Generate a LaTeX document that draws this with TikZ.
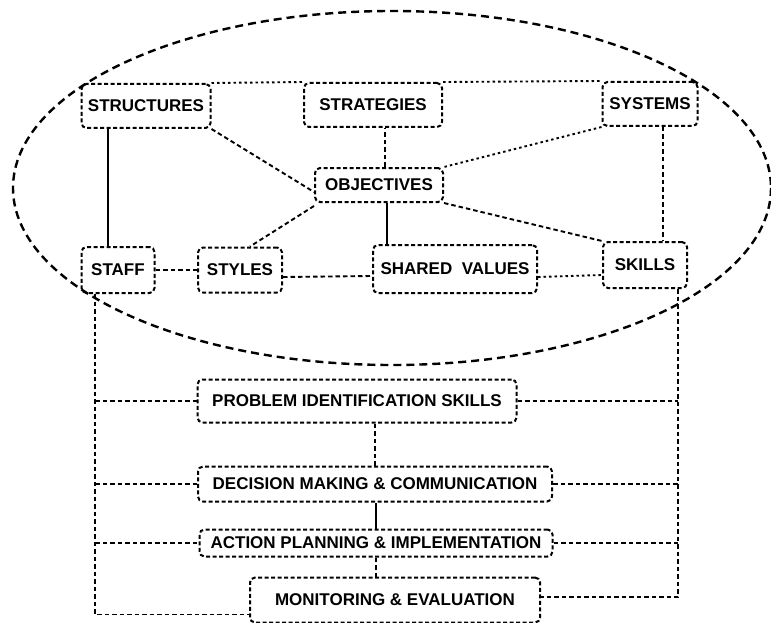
\documentclass[tikz,border=0pt]{standalone}
\usepackage{fontspec}
\setmainfont{Liberation Sans}
\usetikzlibrary{positioning, arrows.meta}

\tikzset{
    blk/.style={draw, rounded corners=5pt, line width=2pt, dash pattern=on 4pt off 2.5pt,
        inner xsep=4pt, inner ysep=2pt, font=\fontsize{17}{20}\selectfont\bfseries},
    lnk/.style={line width=1.9pt, dash pattern=on 4.5pt off 3pt},
    dlnk/.style={line width=1.9pt, dash pattern=on 2.5pt off 3pt},
    slnk/.style={line width=1.5pt},
    oval/.style={line width=2.4pt, dash pattern=on 8pt off 5pt}
}

\begin{document}
\begin{tikzpicture}[x=1pt, y=-1pt]
    \useasboundingbox (0,0) rectangle (771,623);

    % outer ellipse
    \draw[oval] (392,188) ellipse [x radius=379, y radius=177];

    % the seven S
    \node[blk, minimum width=129pt, minimum height=44pt] (struct) at (146,106) {STRUCTURES};
    \node[blk, minimum width=138pt, minimum height=44pt] (strat) at (373,105) {STRATEGIES};
    \node[blk, minimum width=95pt, minimum height=44pt] (sys) at (650,104) {SYSTEMS};
    \node[blk, minimum width=128pt, minimum height=34pt] (obj) at (379,185) {OBJECTIVES};
    \node[blk, minimum width=73pt, minimum height=46pt] (staff) at (118,270) {STAFF};
    \node[blk, minimum width=84pt, minimum height=45pt] (styles) at (240,270) {STYLES};
    \node[blk, minimum width=164pt, minimum height=48pt] (shared) at (455,269) {SHARED\ \ VALUES};
    \node[blk, minimum width=84pt, minimum height=46pt] (skills) at (645,265) {SKILLS};

    % skills chain
    \node[blk, minimum width=319pt, minimum height=43pt] (prob) at (357,401) {PROBLEM IDENTIFICATION SKILLS};
    \node[blk, minimum width=354pt, minimum height=35pt] (dec) at (375,484) {DECISION MAKING \& COMMUNICATION};
    \node[blk, minimum width=353pt, minimum height=27pt] (act) at (376,543) {ACTION PLANNING \& IMPLEMENTATION};
    \node[blk, minimum width=290pt, minimum height=45pt] (mon) at (395,600) {MONITORING \& EVALUATION};

    % links inside the ellipse
    \draw[dlnk] (struct.north east) -- (strat.north west);
    \draw[dlnk] (strat.north east) -- (sys.north west);
    \draw[slnk] ([xshift=-10pt]staff.north) -- ([xshift=-10pt]staff.north |- struct.south);
    \draw[lnk] (struct.south east) -- ([yshift=-7pt]obj.west);
    \draw[lnk] ([xshift=6pt]obj.north) -- ([xshift=6pt]obj.north |- strat.south);
    \draw[dlnk] (sys.south west) -- (obj.north east);
    \draw[lnk] ([yshift=-3pt]obj.south west) -- ([xshift=10pt]styles.north);
    \draw[slnk] ([xshift=8pt]obj.south) -- ([xshift=8pt]obj.south |- shared.north);
    \draw[lnk] (obj.south east) -- (skills.north west);
    \draw[lnk] ([xshift=13pt]sys.south) -- ([xshift=13pt]sys.south |- skills.north);
    \draw[lnk] (staff.east) -- (styles.west);
    \draw[lnk] ([yshift=-7pt]styles.east) -- ([yshift=-7pt]shared.west);
    \draw[dlnk] ([yshift=-8pt]shared.east) -- ([yshift=-10pt]skills.west);

    % side rails
    \coordinate (lft) at ([xshift=-23pt]staff.south);
    \coordinate (rgt) at ([xshift=33pt]skills.south);
    \draw[lnk] (lft) |- ([yshift=9pt]mon.south west);
    \draw[lnk] (rgt) |- ([yshift=3pt]mon.east);
    \draw[lnk] (lft |- prob.west) -- (prob.west);
    \draw[lnk] (lft |- dec.west) -- (dec.west);
    \draw[lnk] (lft |- act.west) -- (act.west);
    \draw[lnk] (prob.east) -- (rgt |- prob.east);
    \draw[lnk] (dec.east) -- (rgt |- dec.east);
    \draw[lnk] (act.east) -- (rgt |- act.east);

    % chain
    \draw[lnk] (dec.north) -- (dec.north |- prob.south);
    \draw[slnk] (act.north) -- (act.north |- dec.south);
    \draw[lnk] (act.south) -- (act.south |- mon.north);
\end{tikzpicture}
\end{document}
